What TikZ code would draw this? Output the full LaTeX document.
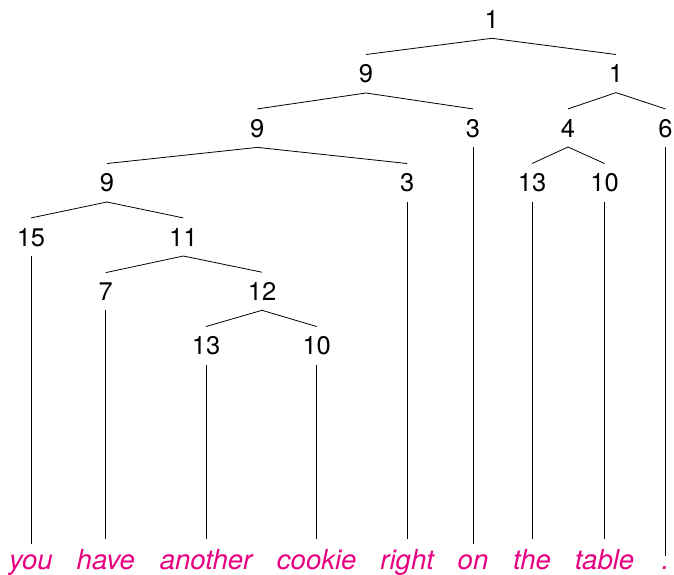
\documentclass[tikz,border=0pt]{standalone}
\usepackage{fontspec}
\setmainfont{TeX Gyre Heros}
\definecolor{wordpink}{RGB}{232,0,128}
\begin{document}
\begin{tikzpicture}[x=1pt,y=-1pt,
  num/.style={font=\fontsize{25.5}{30}\selectfont, inner xsep=2pt, inner ysep=10pt, outer sep=0pt, anchor=base},
  word/.style={font=\fontsize{27.5}{30}\selectfont\itshape, text=wordpink, inner xsep=2pt, inner ysep=10pt, outer sep=0pt, anchor=base},
  edge/.style={draw=black, line width=0.8pt}]
\useasboundingbox (0,0) rectangle (674,574);
% level 0
\node[num] (n0) at (491.7,28.3) {1};
% level 1
\node[num] (a) at (366,82.6) {9};
\node[num] (b) at (616,82.6) {1};
% level 2
\node[num] (aa) at (257.3,137) {9};
\node[num] (ab) at (473,137) {3};
\node[num] (ba) at (568,137) {4};
\node[num] (bb) at (665.5,137) {6};
% level 3
\node[num] (aaa) at (107,191.6) {9};
\node[num] (aab) at (407.2,191.6) {3};
\node[num] (baa) at (532,191.6) {13};
\node[num] (bab) at (604.5,191.6) {10};
% level 4
\node[num] (aaaa) at (31,246) {15};
\node[num] (aaab) at (183.3,246) {11};
% level 5
\node[num] (aaaba) at (105.8,300.3) {7};
\node[num] (aaabb) at (262,300.3) {12};
% level 6
\node[num] (aaabba) at (206,354.6) {13};
\node[num] (aaabbb) at (316.7,354.6) {10};
% words
\node[word] (w1) at (31,569) {you};
\node[word] (w2) at (105.8,569) {have};
\node[word] (w3) at (206,569) {another};
\node[word] (w4) at (316.7,569) {cookie};
\node[word] (w5) at (407.2,569) {right};
\node[word] (w6) at (473,569) {on};
\node[word] (w7) at (532,569) {the};
\node[word] (w8) at (604.5,569) {table};
\node[word] (w9) at (665.5,569) {.};
% tree edges
\foreach \p/\c in {n0/a, n0/b, a/aa, a/ab, b/ba, b/bb, aa/aaa, aa/aab, ba/baa, ba/bab, aaa/aaaa, aaa/aaab, aaab/aaaba, aaab/aaabb, aaabb/aaabba, aaabb/aaabbb}
  \draw[edge] (\p.south) -- (\c.north);
% leaf edges
\foreach \p/\c in {aaaa/w1, aaaba/w2, aaabba/w3, aaabbb/w4, aab/w5, ab/w6, baa/w7, bab/w8, bb/w9}
  \draw[edge] (\p.south) -- (\c.north);
\end{tikzpicture}
\end{document}
